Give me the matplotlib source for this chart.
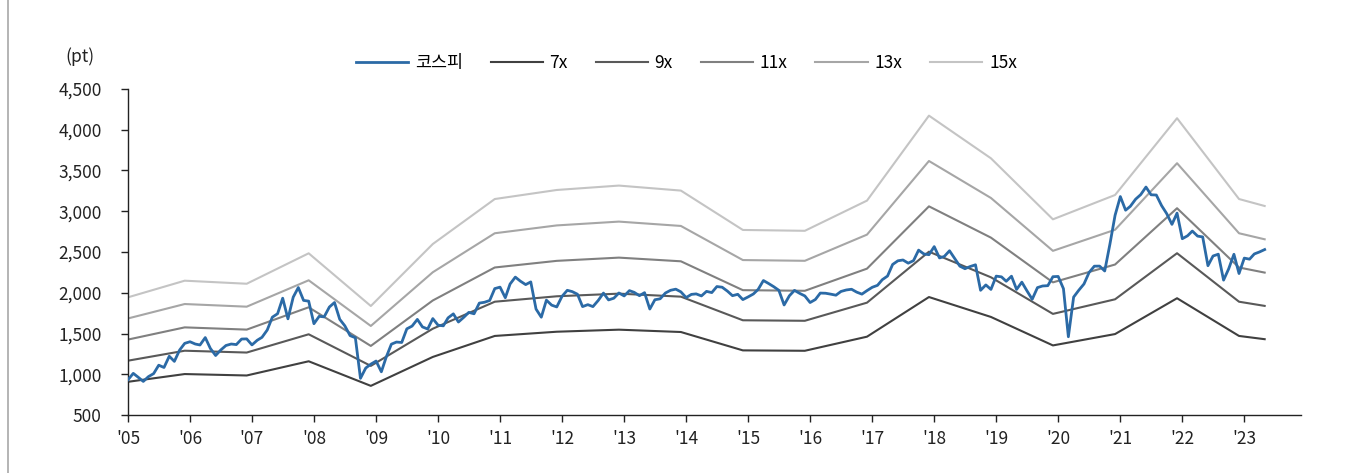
import matplotlib
matplotlib.use("Agg")
import matplotlib.pyplot as plt
import numpy as np
import pandas as pd

plt.rcParams['font.family'] = ['Noto Sans CJK KR', 'DejaVu Sans']

# KOSPI, monthly (Jan 2005 ~ May 2023)
kospi = [
    932, 1011, 965, 912, 970, 1008, 1111, 1083, 1221, 1158, 1297, 1379,      # 2005
    1399, 1371, 1359, 1450, 1317, 1230, 1297, 1353, 1371, 1364, 1432, 1434,  # 2006
    1360, 1417, 1453, 1543, 1700, 1743, 1933, 1680, 1946, 2064, 1906, 1897,  # 2007
    1620, 1711, 1704, 1825, 1880, 1674, 1594, 1474, 1448, 950, 1076, 1124,   # 2008
    1162, 1030, 1206, 1369, 1395, 1390, 1557, 1591, 1673, 1581, 1555, 1683,  # 2009
    1602, 1594, 1692, 1741, 1641, 1698, 1759, 1742, 1873, 1883, 1905, 2051,  # 2010
    2069, 1939, 2107, 2192, 2142, 2100, 2133, 1800, 1700, 1909, 1848, 1826,  # 2011
    1956, 2030, 2014, 1982, 1830, 1854, 1830, 1905, 1996, 1912, 1933, 1997,  # 2012
    1961, 2026, 2005, 1964, 2001, 1800, 1914, 1926, 1997, 2030, 2044, 2011,  # 2013
    1941, 1980, 1986, 1961, 2017, 2002, 2076, 2068, 2020, 1964, 1981, 1916,  # 2014
    1949, 1985, 2041, 2150, 2114, 2074, 2030, 1850, 1963, 2029, 1992, 1961,  # 2015
    1880, 1917, 1996, 1994, 1983, 1970, 2016, 2034, 2043, 2008, 1983, 2026,  # 2016
    2067, 2091, 2160, 2205, 2347, 2392, 2402, 2363, 2394, 2523, 2476, 2467,  # 2017
    2566, 2427, 2445, 2515, 2423, 2326, 2295, 2322, 2343, 2030, 2096, 2041,  # 2018
    2204, 2195, 2141, 2203, 2041, 2130, 2024, 1920, 2063, 2083, 2087, 2197,  # 2019
    2200, 2050, 1460, 1947, 2030, 2108, 2249, 2326, 2327, 2267, 2600, 2950,  # 2020
    3180, 3013, 3061, 3148, 3204, 3297, 3202, 3199, 3069, 2971, 2839, 2977,  # 2021
    2663, 2699, 2757, 2695, 2685, 2332, 2451, 2473, 2155, 2293, 2472, 2236,  # 2022
    2425, 2412, 2476, 2501, 2530,                                            # 2023
]
kospi_dates = pd.date_range("2005-01-01", periods=len(kospi), freq="MS")

# 12M fwd EPS at band vertices
band_dates = ["2005-01"] + [f"{y}-12" for y in range(2005, 2023)] + ["2023-05"]
eps = [129.6, 143.2, 140.7, 165.6, 122.5, 173.2, 210.0, 217.4, 221.0, 216.9,
       184.7, 184.0, 208.7, 278.2, 243.3, 193.4, 213.3, 276.1, 210.0, 204.3]

multiples = [7, 9, 11, 13, 15]
band_labels = ["7x", "9x", "11x", "13x", "15x"]
band_colors = ["#404040", "#595959", "#808080", "#a6a6a6", "#c4c4c4"]

years = list(range(2005, 2024))
year_labels = [f"'{y % 100:02d}" for y in years]

fig = plt.figure(figsize=(13.45, 4.73), dpi=100)
ax = fig.add_axes([128 / 1345, 1 - 415 / 473, (1301 - 128) / 1345, (415 - 89) / 473])

bd = pd.to_datetime(band_dates)
ax.plot(kospi_dates, kospi, color="#2b6aa6", lw=2.0, label="코스피", zorder=5)
for m, lab, c in zip(multiples, band_labels, band_colors):
    ax.plot(bd, np.array(eps) * m, color=c, lw=1.5, label=lab)

ax.set_ylim(500, 4500)
ax.set_yticks(range(500, 4501, 500))
ax.yaxis.set_major_formatter(matplotlib.ticker.FuncFormatter(lambda v, p: f"{int(v):,}"))
ax.set_xlim(pd.Timestamp("2005-01-01"), pd.Timestamp("2023-12-01"))
ax.set_xticks([pd.Timestamp(f"{y}-01-01") for y in years])
ax.set_xticklabels(year_labels)

for s in ["top", "right"]:
    ax.spines[s].set_visible(False)
for s in ["left", "bottom"]:
    ax.spines[s].set_color("#222222")
    ax.spines[s].set_linewidth(1.0)
ax.tick_params(axis="both", direction="out", length=5, width=1.0, color="#222222",
               labelsize=12.5, labelcolor="#222222")
ax.tick_params(axis="y", pad=14)
ax.tick_params(axis="x", pad=6)

ax.legend(loc="center", bbox_to_anchor=(0.476, 1.08), ncol=6, frameon=False,
          fontsize=12.5, handlelength=3.0, columnspacing=1.6, handletextpad=0.4)

fig.text(80 / 1345, 1 - 57 / 473, "(pt)", ha="center", va="center", fontsize=12.5, color="#222222")
fig.add_artist(plt.Line2D([8 / 1345, 8 / 1345], [0, 1], color="#a8a8a8", lw=1.2))

fig.savefig("out.png", dpi=100)
